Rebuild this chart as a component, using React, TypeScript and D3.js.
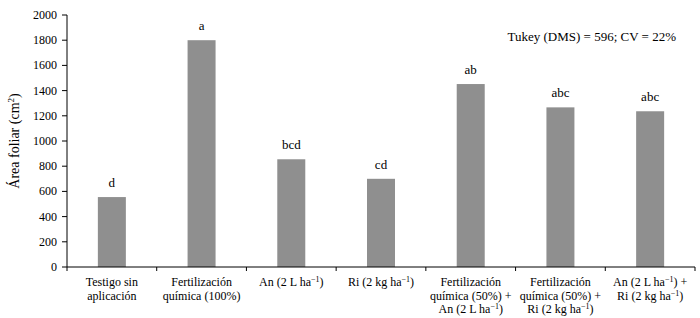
import React from "react";
import * as d3 from "d3";

const categories = [
  "Testigo sin aplicación",
  "Fertilización química (100%)",
  "An (2 L ha-1)",
  "Ri (2 kg ha-1)",
  "Fertilización química (50%) + An (2 L ha-1)",
  "Fertilización química (50%) + Ri (2 kg ha-1)",
  "An (2 L ha-1) + Ri (2 kg ha-1)",
];
const values = [555, 1800, 855, 700, 1452, 1267, 1236];
const letters = ["d", "a", "bcd", "cd", "ab", "abc", "abc"];
const yTicks = [0, 200, 400, 600, 800, 1000, 1200, 1400, 1600, 1800, 2000];
// label lines per category; "^" marks superscript -1
const labelLines: string[][] = [
  ["Testigo sin", "aplicación"],
  ["Fertilización", "química (100%)"],
  ["An (2 L ha^)"],
  ["Ri (2 kg ha^)"],
  ["Fertilización", "química (50%) +", "An (2 L ha^)"],
  ["Fertilización", "química (50%) +", "Ri (2 kg ha^)"],
  ["An (2 L ha^) +", "Ri (2 kg ha^)"],
];

const FONT = "'Liberation Serif', 'Times New Roman', serif";

function Line({ text, x, y }: { text: string; x: number; y: number }) {
  const parts = text.split("^");
  return (
    <text x={x} y={y} textAnchor="middle" fontSize={12} fontFamily={FONT} fill="#000">
      {parts.map((p, i) => (
        <React.Fragment key={i}>
          <tspan dy={i > 0 ? 4 : 0}>{p}</tspan>
          {i < parts.length - 1 && (
            <tspan fontSize={8} dy={-4}>−1</tspan>
          )}
        </React.Fragment>
      ))}
    </text>
  );
}

export default function App() {
  const W = 700, H = 318;
  const left = 67, right = 695, top = 15, bottom = 267;
  const x = d3.scaleBand<number>().domain(d3.range(categories.length)).range([left, right]).paddingInner(0).paddingOuter(0);
  const y = d3.scaleLinear().domain([0, 2000]).range([bottom, top]);
  const bw = 28;
  const bounds = d3.range(categories.length + 1).map((i) => left + i * x.step());
  return (
    <svg width={W} height={H} style={{ position: "absolute", left: 0, top: 0, background: "#fff" }}>
      {values.map((v, i) => {
        const cx = (x(i) as number) + x.bandwidth() / 2;
        return (
          <g key={i}>
            <rect x={cx - bw / 2} y={y(v)} width={bw} height={bottom - y(v)} fill="#8f8f8f" />
            <text x={cx} y={y(v) - 10} textAnchor="middle" fontSize={13} fontFamily={FONT} fill="#000">
              {letters[i]}
            </text>
            {labelLines[i].map((ln, j) => (
              <Line key={j} text={ln} x={cx} y={286 + j * 13.5} />
            ))}
          </g>
        );
      })}
      <line x1={left} x2={left} y1={top} y2={bottom} stroke="#000" strokeWidth={1} />
      {yTicks.map((t) => (
        <g key={t}>
          <line x1={left - 5} x2={left} y1={y(t)} y2={y(t)} stroke="#000" />
          <text x={left - 10} y={y(t) + 4} textAnchor="end" fontSize={12} fontFamily={FONT} fill="#000">
            {t}
          </text>
        </g>
      ))}
      <line x1={left} x2={right} y1={bottom} y2={bottom} stroke="#000" strokeWidth={1} />
      {bounds.map((b, i) => (
        <line key={i} x1={b} x2={b} y1={bottom} y2={bottom + 4} stroke="#000" />
      ))}
      <text
        transform={`translate(19, ${(top + bottom) / 2}) rotate(-90)`}
        textAnchor="middle"
        fontSize={14}
        fontFamily={FONT}
        fill="#000"
      >
        Área foliar (cm<tspan fontSize={9} dy={-5}>2</tspan><tspan dy={5}>)</tspan>
      </text>
      <text x={676} y={41} textAnchor="end" fontSize={13} fontFamily={FONT} fill="#000">
        Tukey (DMS) = 596; CV = 22%
      </text>
    </svg>
  );
}
